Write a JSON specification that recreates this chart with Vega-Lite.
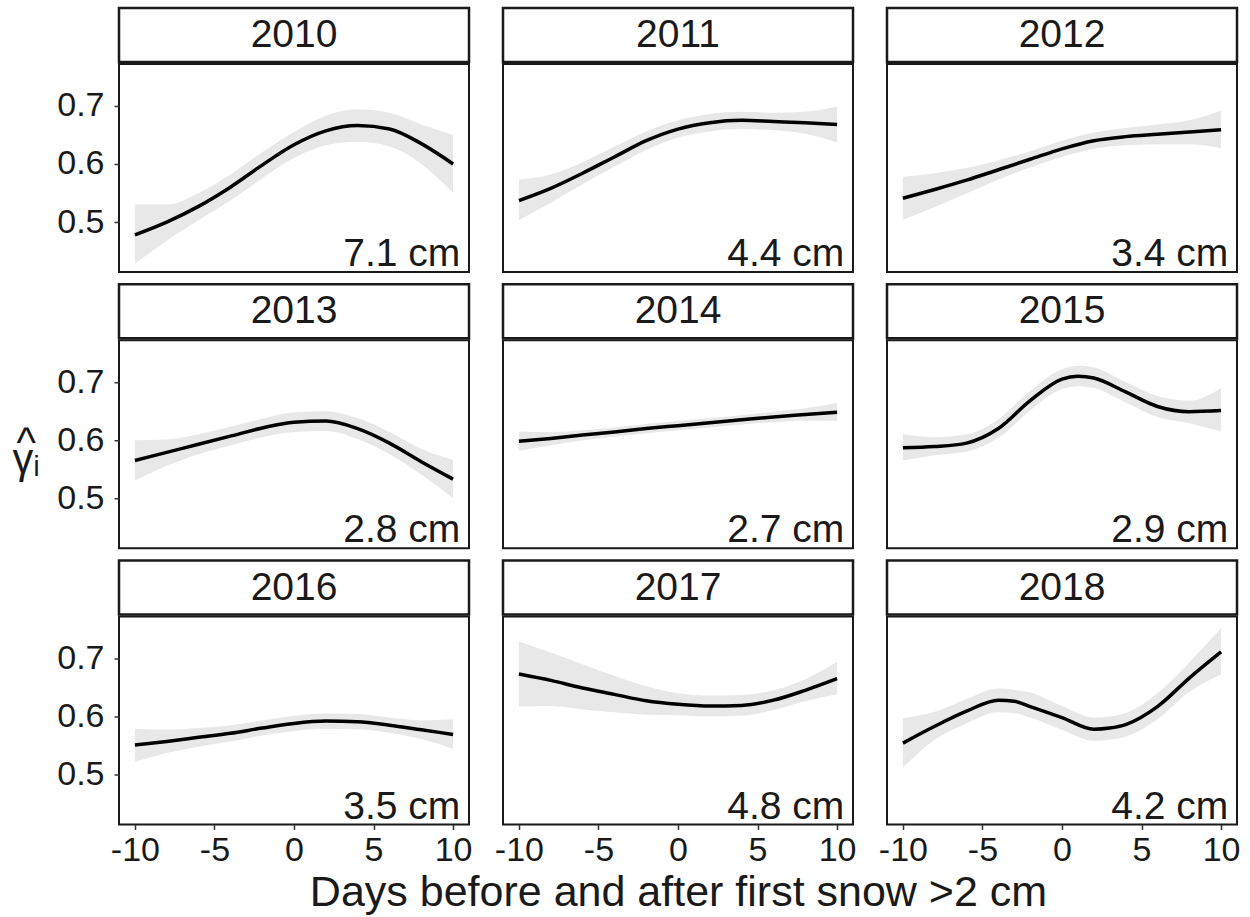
{
  "$schema": "https://vega.github.io/schema/vega-lite/v6.json",
  "background": "white",
  "padding": {"left": 11, "top": 6, "right": 5, "bottom": 4},
  "datasets": {
    "fits": [
      {"year": 2010, "day": -10, "est": 0.478, "lo": 0.428, "hi": 0.530},
      {"year": 2010, "day": -8, "est": 0.500, "lo": 0.468, "hi": 0.530},
      {"year": 2010, "day": -6, "est": 0.527, "lo": 0.503, "hi": 0.550},
      {"year": 2010, "day": -4, "est": 0.560, "lo": 0.537, "hi": 0.582},
      {"year": 2010, "day": -2, "est": 0.598, "lo": 0.575, "hi": 0.620},
      {"year": 2010, "day": 0, "est": 0.633, "lo": 0.610, "hi": 0.655},
      {"year": 2010, "day": 2, "est": 0.657, "lo": 0.632, "hi": 0.683},
      {"year": 2010, "day": 4, "est": 0.666, "lo": 0.638, "hi": 0.694},
      {"year": 2010, "day": 6, "est": 0.660, "lo": 0.630, "hi": 0.688},
      {"year": 2010, "day": 8, "est": 0.635, "lo": 0.600, "hi": 0.668},
      {"year": 2010, "day": 10, "est": 0.600, "lo": 0.550, "hi": 0.650},

      {"year": 2011, "day": -10, "est": 0.537, "lo": 0.503, "hi": 0.573},
      {"year": 2011, "day": -8, "est": 0.558, "lo": 0.533, "hi": 0.582},
      {"year": 2011, "day": -6, "est": 0.584, "lo": 0.565, "hi": 0.603},
      {"year": 2011, "day": -4, "est": 0.612, "lo": 0.595, "hi": 0.630},
      {"year": 2011, "day": -2, "est": 0.640, "lo": 0.624, "hi": 0.656},
      {"year": 2011, "day": 0, "est": 0.660, "lo": 0.645, "hi": 0.675},
      {"year": 2011, "day": 2, "est": 0.671, "lo": 0.656, "hi": 0.686},
      {"year": 2011, "day": 4, "est": 0.675, "lo": 0.660, "hi": 0.690},
      {"year": 2011, "day": 6, "est": 0.673, "lo": 0.658, "hi": 0.688},
      {"year": 2011, "day": 8, "est": 0.671, "lo": 0.652, "hi": 0.690},
      {"year": 2011, "day": 10, "est": 0.668, "lo": 0.637, "hi": 0.699},

      {"year": 2012, "day": -10, "est": 0.541, "lo": 0.504, "hi": 0.578},
      {"year": 2012, "day": -8, "est": 0.556, "lo": 0.526, "hi": 0.584},
      {"year": 2012, "day": -6, "est": 0.572, "lo": 0.549, "hi": 0.593},
      {"year": 2012, "day": -4, "est": 0.590, "lo": 0.573, "hi": 0.606},
      {"year": 2012, "day": -2, "est": 0.608, "lo": 0.594, "hi": 0.622},
      {"year": 2012, "day": 0, "est": 0.626, "lo": 0.612, "hi": 0.640},
      {"year": 2012, "day": 2, "est": 0.640, "lo": 0.626, "hi": 0.654},
      {"year": 2012, "day": 4, "est": 0.647, "lo": 0.632, "hi": 0.662},
      {"year": 2012, "day": 6, "est": 0.651, "lo": 0.634, "hi": 0.668},
      {"year": 2012, "day": 8, "est": 0.655, "lo": 0.634, "hi": 0.675},
      {"year": 2012, "day": 10, "est": 0.659, "lo": 0.627, "hi": 0.692},

      {"year": 2013, "day": -10, "est": 0.565, "lo": 0.530, "hi": 0.600},
      {"year": 2013, "day": -8, "est": 0.579, "lo": 0.556, "hi": 0.601},
      {"year": 2013, "day": -6, "est": 0.593, "lo": 0.576, "hi": 0.610},
      {"year": 2013, "day": -4, "est": 0.607, "lo": 0.591, "hi": 0.623},
      {"year": 2013, "day": -2, "est": 0.621, "lo": 0.605, "hi": 0.637},
      {"year": 2013, "day": 0, "est": 0.631, "lo": 0.614, "hi": 0.648},
      {"year": 2013, "day": 2, "est": 0.633, "lo": 0.616, "hi": 0.650},
      {"year": 2013, "day": 4, "est": 0.620, "lo": 0.602, "hi": 0.638},
      {"year": 2013, "day": 6, "est": 0.595, "lo": 0.576, "hi": 0.614},
      {"year": 2013, "day": 8, "est": 0.563, "lo": 0.541, "hi": 0.585},
      {"year": 2013, "day": 10, "est": 0.533, "lo": 0.500, "hi": 0.566},

      {"year": 2014, "day": -10, "est": 0.598, "lo": 0.582, "hi": 0.615},
      {"year": 2014, "day": -8, "est": 0.603, "lo": 0.591, "hi": 0.614},
      {"year": 2014, "day": -6, "est": 0.609, "lo": 0.600, "hi": 0.617},
      {"year": 2014, "day": -4, "est": 0.614, "lo": 0.606, "hi": 0.622},
      {"year": 2014, "day": -2, "est": 0.620, "lo": 0.612, "hi": 0.628},
      {"year": 2014, "day": 0, "est": 0.625, "lo": 0.617, "hi": 0.633},
      {"year": 2014, "day": 2, "est": 0.630, "lo": 0.622, "hi": 0.638},
      {"year": 2014, "day": 4, "est": 0.635, "lo": 0.627, "hi": 0.643},
      {"year": 2014, "day": 6, "est": 0.640, "lo": 0.631, "hi": 0.649},
      {"year": 2014, "day": 8, "est": 0.644, "lo": 0.634, "hi": 0.655},
      {"year": 2014, "day": 10, "est": 0.648, "lo": 0.633, "hi": 0.664},

      {"year": 2015, "day": -10, "est": 0.587, "lo": 0.565, "hi": 0.610},
      {"year": 2015, "day": -8, "est": 0.589, "lo": 0.574, "hi": 0.605},
      {"year": 2015, "day": -6, "est": 0.595, "lo": 0.580, "hi": 0.610},
      {"year": 2015, "day": -4, "est": 0.620, "lo": 0.604, "hi": 0.636},
      {"year": 2015, "day": -2, "est": 0.668, "lo": 0.651, "hi": 0.685},
      {"year": 2015, "day": 0, "est": 0.705, "lo": 0.688, "hi": 0.722},
      {"year": 2015, "day": 1, "est": 0.710, "lo": 0.693, "hi": 0.728},
      {"year": 2015, "day": 2, "est": 0.707, "lo": 0.690, "hi": 0.725},
      {"year": 2015, "day": 4, "est": 0.683, "lo": 0.665, "hi": 0.700},
      {"year": 2015, "day": 6, "est": 0.658, "lo": 0.640, "hi": 0.676},
      {"year": 2015, "day": 8, "est": 0.649, "lo": 0.629, "hi": 0.668},
      {"year": 2015, "day": 10, "est": 0.651, "lo": 0.615, "hi": 0.690},

      {"year": 2016, "day": -10, "est": 0.551, "lo": 0.522, "hi": 0.579},
      {"year": 2016, "day": -8, "est": 0.557, "lo": 0.537, "hi": 0.577},
      {"year": 2016, "day": -6, "est": 0.564, "lo": 0.548, "hi": 0.580},
      {"year": 2016, "day": -4, "est": 0.571, "lo": 0.557, "hi": 0.585},
      {"year": 2016, "day": -2, "est": 0.580, "lo": 0.567, "hi": 0.593},
      {"year": 2016, "day": 0, "est": 0.588, "lo": 0.575, "hi": 0.601},
      {"year": 2016, "day": 2, "est": 0.592, "lo": 0.579, "hi": 0.605},
      {"year": 2016, "day": 4, "est": 0.591, "lo": 0.578, "hi": 0.604},
      {"year": 2016, "day": 6, "est": 0.585, "lo": 0.572, "hi": 0.598},
      {"year": 2016, "day": 8, "est": 0.577, "lo": 0.561, "hi": 0.593},
      {"year": 2016, "day": 10, "est": 0.569, "lo": 0.544, "hi": 0.595},

      {"year": 2017, "day": -10, "est": 0.673, "lo": 0.617, "hi": 0.729},
      {"year": 2017, "day": -8, "est": 0.662, "lo": 0.618, "hi": 0.710},
      {"year": 2017, "day": -6, "est": 0.649, "lo": 0.612, "hi": 0.690},
      {"year": 2017, "day": -4, "est": 0.638, "lo": 0.607, "hi": 0.670},
      {"year": 2017, "day": -2, "est": 0.627, "lo": 0.603, "hi": 0.652},
      {"year": 2017, "day": 0, "est": 0.621, "lo": 0.602, "hi": 0.640},
      {"year": 2017, "day": 2, "est": 0.618, "lo": 0.600, "hi": 0.636},
      {"year": 2017, "day": 4, "est": 0.619, "lo": 0.601, "hi": 0.637},
      {"year": 2017, "day": 6, "est": 0.628, "lo": 0.611, "hi": 0.645},
      {"year": 2017, "day": 8, "est": 0.645, "lo": 0.626, "hi": 0.664},
      {"year": 2017, "day": 10, "est": 0.665, "lo": 0.638, "hi": 0.694},

      {"year": 2018, "day": -10, "est": 0.554, "lo": 0.512, "hi": 0.597},
      {"year": 2018, "day": -8, "est": 0.583, "lo": 0.560, "hi": 0.608},
      {"year": 2018, "day": -6, "est": 0.609, "lo": 0.588, "hi": 0.630},
      {"year": 2018, "day": -4, "est": 0.628, "lo": 0.607, "hi": 0.648},
      {"year": 2018, "day": -3, "est": 0.626, "lo": 0.606, "hi": 0.646},
      {"year": 2018, "day": -2, "est": 0.617, "lo": 0.598, "hi": 0.641},
      {"year": 2018, "day": 0, "est": 0.598, "lo": 0.577, "hi": 0.618},
      {"year": 2018, "day": 2, "est": 0.578, "lo": 0.558, "hi": 0.598},
      {"year": 2018, "day": 3, "est": 0.580, "lo": 0.560, "hi": 0.600},
      {"year": 2018, "day": 4, "est": 0.586, "lo": 0.565, "hi": 0.606},
      {"year": 2018, "day": 6, "est": 0.617, "lo": 0.595, "hi": 0.640},
      {"year": 2018, "day": 8, "est": 0.666, "lo": 0.642, "hi": 0.693},
      {"year": 2018, "day": 10, "est": 0.711, "lo": 0.672, "hi": 0.752}
    ],
    "depths": [
      {"year": 2010, "depth": "7.1 cm"},
      {"year": 2011, "depth": "4.4 cm"},
      {"year": 2012, "depth": "3.4 cm"},
      {"year": 2013, "depth": "2.8 cm"},
      {"year": 2014, "depth": "2.7 cm"},
      {"year": 2015, "depth": "2.9 cm"},
      {"year": 2016, "depth": "3.5 cm"},
      {"year": 2017, "depth": "4.8 cm"},
      {"year": 2018, "depth": "4.2 cm"}
    ]
  },
  "spacing": 6.25,
  "vconcat": [
    {"spacing": -2.25, "vconcat": [
      {"spacing": 34, "bounds": "flush", "hconcat": [
        {"data": {"name": "depths"}, "transform": [{"filter": "datum.year == 2010"}], "width": 350, "height": 54, "view": {"stroke": "#1a1a1a", "strokeWidth": 2.5}, "mark": {"type": "text", "fontSize": 39}, "encoding": {"text": {"field": "year", "type": "nominal"}}},
        {"data": {"name": "depths"}, "transform": [{"filter": "datum.year == 2011"}], "width": 350, "height": 54, "view": {"stroke": "#1a1a1a", "strokeWidth": 2.5}, "mark": {"type": "text", "fontSize": 39}, "encoding": {"text": {"field": "year", "type": "nominal"}}},
        {"data": {"name": "depths"}, "transform": [{"filter": "datum.year == 2012"}], "width": 350, "height": 54, "view": {"stroke": "#1a1a1a", "strokeWidth": 2.5}, "mark": {"type": "text", "fontSize": 39}, "encoding": {"text": {"field": "year", "type": "nominal"}}}
      ]},
      {"spacing": 34, "bounds": "flush", "hconcat": [
        {"width": 350, "height": 208, "layer": [
          {"data": {"name": "fits"}, "transform": [{"filter": "datum.year == 2010"}], "mark": {"type": "area", "interpolate": "monotone", "color": "#E8E8E8"},
           "encoding": {"x": {"field": "day", "type": "quantitative", "scale": {"domain": [-11, 11], "nice": false, "zero": false}, "axis": null},
                        "y": {"field": "lo", "type": "quantitative", "scale": {"domain": [0.414, 0.772], "nice": false, "zero": false}, "axis": {"title": null, "values": [0.5, 0.6, 0.7], "format": ".1f"}},
                        "y2": {"field": "hi"}}},
          {"data": {"name": "fits"}, "transform": [{"filter": "datum.year == 2010"}], "mark": {"type": "line", "interpolate": "monotone", "color": "black", "strokeWidth": 3.5},
           "encoding": {"x": {"field": "day", "type": "quantitative", "axis": null},
                        "y": {"field": "est", "type": "quantitative", "axis": {"title": null, "values": [0.5, 0.6, 0.7], "format": ".1f"}}}},
          {"data": {"name": "depths"}, "transform": [{"filter": "datum.year == 2010"}], "mark": {"type": "text", "align": "right", "baseline": "alphabetic", "fontSize": 39},
           "encoding": {"x": {"datum": 10.45, "type": "quantitative", "axis": null}, "y": {"datum": 0.424, "type": "quantitative", "axis": {"title": null, "values": [0.5, 0.6, 0.7], "format": ".1f"}}, "text": {"field": "depth", "type": "nominal"}}}
        ]},
        {"width": 350, "height": 208, "layer": [
          {"data": {"name": "fits"}, "transform": [{"filter": "datum.year == 2011"}], "mark": {"type": "area", "interpolate": "monotone", "color": "#E8E8E8"},
           "encoding": {"x": {"field": "day", "type": "quantitative", "scale": {"domain": [-11, 11], "nice": false, "zero": false}, "axis": null},
                        "y": {"field": "lo", "type": "quantitative", "scale": {"domain": [0.414, 0.772], "nice": false, "zero": false}, "axis": null},
                        "y2": {"field": "hi"}}},
          {"data": {"name": "fits"}, "transform": [{"filter": "datum.year == 2011"}], "mark": {"type": "line", "interpolate": "monotone", "color": "black", "strokeWidth": 3.5},
           "encoding": {"x": {"field": "day", "type": "quantitative", "axis": null}, "y": {"field": "est", "type": "quantitative", "axis": null}}},
          {"data": {"name": "depths"}, "transform": [{"filter": "datum.year == 2011"}], "mark": {"type": "text", "align": "right", "baseline": "alphabetic", "fontSize": 39},
           "encoding": {"x": {"datum": 10.45, "type": "quantitative", "axis": null}, "y": {"datum": 0.424, "type": "quantitative", "axis": null}, "text": {"field": "depth", "type": "nominal"}}}
        ]},
        {"width": 350, "height": 208, "layer": [
          {"data": {"name": "fits"}, "transform": [{"filter": "datum.year == 2012"}], "mark": {"type": "area", "interpolate": "monotone", "color": "#E8E8E8"},
           "encoding": {"x": {"field": "day", "type": "quantitative", "scale": {"domain": [-11, 11], "nice": false, "zero": false}, "axis": null},
                        "y": {"field": "lo", "type": "quantitative", "scale": {"domain": [0.414, 0.772], "nice": false, "zero": false}, "axis": null},
                        "y2": {"field": "hi"}}},
          {"data": {"name": "fits"}, "transform": [{"filter": "datum.year == 2012"}], "mark": {"type": "line", "interpolate": "monotone", "color": "black", "strokeWidth": 3.5},
           "encoding": {"x": {"field": "day", "type": "quantitative", "axis": null}, "y": {"field": "est", "type": "quantitative", "axis": null}}},
          {"data": {"name": "depths"}, "transform": [{"filter": "datum.year == 2012"}], "mark": {"type": "text", "align": "right", "baseline": "alphabetic", "fontSize": 39},
           "encoding": {"x": {"datum": 10.45, "type": "quantitative", "axis": null}, "y": {"datum": 0.424, "type": "quantitative", "axis": null}, "text": {"field": "depth", "type": "nominal"}}}
        ]}
      ]}
    ]},
    {"spacing": -2.25, "vconcat": [
      {"spacing": 34, "bounds": "flush", "hconcat": [
        {"data": {"name": "depths"}, "transform": [{"filter": "datum.year == 2013"}], "width": 350, "height": 54, "view": {"stroke": "#1a1a1a", "strokeWidth": 2.5}, "mark": {"type": "text", "fontSize": 39}, "encoding": {"text": {"field": "year", "type": "nominal"}}},
        {"data": {"name": "depths"}, "transform": [{"filter": "datum.year == 2014"}], "width": 350, "height": 54, "view": {"stroke": "#1a1a1a", "strokeWidth": 2.5}, "mark": {"type": "text", "fontSize": 39}, "encoding": {"text": {"field": "year", "type": "nominal"}}},
        {"data": {"name": "depths"}, "transform": [{"filter": "datum.year == 2015"}], "width": 350, "height": 54, "view": {"stroke": "#1a1a1a", "strokeWidth": 2.5}, "mark": {"type": "text", "fontSize": 39}, "encoding": {"text": {"field": "year", "type": "nominal"}}}
      ]},
      {"spacing": 34, "bounds": "flush", "hconcat": [
        {"width": 350, "height": 208, "layer": [
          {"data": {"name": "fits"}, "transform": [{"filter": "datum.year == 2013"}], "mark": {"type": "area", "interpolate": "monotone", "color": "#E8E8E8"},
           "encoding": {"x": {"field": "day", "type": "quantitative", "scale": {"domain": [-11, 11], "nice": false, "zero": false}, "axis": null},
                        "y": {"field": "lo", "type": "quantitative", "scale": {"domain": [0.414, 0.772], "nice": false, "zero": false}, "axis": {"title": ["^", "γᵢ"], "values": [0.5, 0.6, 0.7], "format": ".1f", "titleAngle": 0, "titleAlign": "center", "titleBaseline": "middle", "titleLineHeight": 16, "titlePadding": 15}},
                        "y2": {"field": "hi"}}},
          {"data": {"name": "fits"}, "transform": [{"filter": "datum.year == 2013"}], "mark": {"type": "line", "interpolate": "monotone", "color": "black", "strokeWidth": 3.5},
           "encoding": {"x": {"field": "day", "type": "quantitative", "axis": null},
                        "y": {"field": "est", "type": "quantitative", "axis": {"title": ["^", "γᵢ"], "values": [0.5, 0.6, 0.7], "format": ".1f", "titleAngle": 0, "titleAlign": "center", "titleBaseline": "middle", "titleLineHeight": 16, "titlePadding": 15}}}},
          {"data": {"name": "depths"}, "transform": [{"filter": "datum.year == 2013"}], "mark": {"type": "text", "align": "right", "baseline": "alphabetic", "fontSize": 39},
           "encoding": {"x": {"datum": 10.45, "type": "quantitative", "axis": null}, "y": {"datum": 0.424, "type": "quantitative", "axis": {"title": ["^", "γᵢ"], "values": [0.5, 0.6, 0.7], "format": ".1f", "titleAngle": 0, "titleAlign": "center", "titleBaseline": "middle", "titleLineHeight": 16, "titlePadding": 15}}, "text": {"field": "depth", "type": "nominal"}}}
        ]},
        {"width": 350, "height": 208, "layer": [
          {"data": {"name": "fits"}, "transform": [{"filter": "datum.year == 2014"}], "mark": {"type": "area", "interpolate": "monotone", "color": "#E8E8E8"},
           "encoding": {"x": {"field": "day", "type": "quantitative", "scale": {"domain": [-11, 11], "nice": false, "zero": false}, "axis": null},
                        "y": {"field": "lo", "type": "quantitative", "scale": {"domain": [0.414, 0.772], "nice": false, "zero": false}, "axis": null},
                        "y2": {"field": "hi"}}},
          {"data": {"name": "fits"}, "transform": [{"filter": "datum.year == 2014"}], "mark": {"type": "line", "interpolate": "monotone", "color": "black", "strokeWidth": 3.5},
           "encoding": {"x": {"field": "day", "type": "quantitative", "axis": null}, "y": {"field": "est", "type": "quantitative", "axis": null}}},
          {"data": {"name": "depths"}, "transform": [{"filter": "datum.year == 2014"}], "mark": {"type": "text", "align": "right", "baseline": "alphabetic", "fontSize": 39},
           "encoding": {"x": {"datum": 10.45, "type": "quantitative", "axis": null}, "y": {"datum": 0.424, "type": "quantitative", "axis": null}, "text": {"field": "depth", "type": "nominal"}}}
        ]},
        {"width": 350, "height": 208, "layer": [
          {"data": {"name": "fits"}, "transform": [{"filter": "datum.year == 2015"}], "mark": {"type": "area", "interpolate": "monotone", "color": "#E8E8E8"},
           "encoding": {"x": {"field": "day", "type": "quantitative", "scale": {"domain": [-11, 11], "nice": false, "zero": false}, "axis": null},
                        "y": {"field": "lo", "type": "quantitative", "scale": {"domain": [0.414, 0.772], "nice": false, "zero": false}, "axis": null},
                        "y2": {"field": "hi"}}},
          {"data": {"name": "fits"}, "transform": [{"filter": "datum.year == 2015"}], "mark": {"type": "line", "interpolate": "monotone", "color": "black", "strokeWidth": 3.5},
           "encoding": {"x": {"field": "day", "type": "quantitative", "axis": null}, "y": {"field": "est", "type": "quantitative", "axis": null}}},
          {"data": {"name": "depths"}, "transform": [{"filter": "datum.year == 2015"}], "mark": {"type": "text", "align": "right", "baseline": "alphabetic", "fontSize": 39},
           "encoding": {"x": {"datum": 10.45, "type": "quantitative", "axis": null}, "y": {"datum": 0.424, "type": "quantitative", "axis": null}, "text": {"field": "depth", "type": "nominal"}}}
        ]}
      ]}
    ]},
    {"spacing": -2.25, "vconcat": [
      {"spacing": 34, "bounds": "flush", "hconcat": [
        {"data": {"name": "depths"}, "transform": [{"filter": "datum.year == 2016"}], "width": 350, "height": 54, "view": {"stroke": "#1a1a1a", "strokeWidth": 2.5}, "mark": {"type": "text", "fontSize": 39}, "encoding": {"text": {"field": "year", "type": "nominal"}}},
        {"data": {"name": "depths"}, "transform": [{"filter": "datum.year == 2017"}], "width": 350, "height": 54, "view": {"stroke": "#1a1a1a", "strokeWidth": 2.5}, "mark": {"type": "text", "fontSize": 39}, "encoding": {"text": {"field": "year", "type": "nominal"}}},
        {"data": {"name": "depths"}, "transform": [{"filter": "datum.year == 2018"}], "width": 350, "height": 54, "view": {"stroke": "#1a1a1a", "strokeWidth": 2.5}, "mark": {"type": "text", "fontSize": 39}, "encoding": {"text": {"field": "year", "type": "nominal"}}}
      ]},
      {"spacing": 34, "bounds": "flush", "hconcat": [
        {"width": 350, "height": 208, "layer": [
          {"data": {"name": "fits"}, "transform": [{"filter": "datum.year == 2016"}], "mark": {"type": "area", "interpolate": "monotone", "color": "#E8E8E8"},
           "encoding": {"x": {"field": "day", "type": "quantitative", "scale": {"domain": [-11, 11], "nice": false, "zero": false}, "axis": {"title": null, "values": [-10, -5, 0, 5, 10], "labelExpr": "'' + datum.value"}},
                        "y": {"field": "lo", "type": "quantitative", "scale": {"domain": [0.414, 0.772], "nice": false, "zero": false}, "axis": {"title": null, "values": [0.5, 0.6, 0.7], "format": ".1f"}},
                        "y2": {"field": "hi"}}},
          {"data": {"name": "fits"}, "transform": [{"filter": "datum.year == 2016"}], "mark": {"type": "line", "interpolate": "monotone", "color": "black", "strokeWidth": 3.5},
           "encoding": {"x": {"field": "day", "type": "quantitative", "axis": {"title": null, "values": [-10, -5, 0, 5, 10], "labelExpr": "'' + datum.value"}},
                        "y": {"field": "est", "type": "quantitative", "axis": {"title": null, "values": [0.5, 0.6, 0.7], "format": ".1f"}}}},
          {"data": {"name": "depths"}, "transform": [{"filter": "datum.year == 2016"}], "mark": {"type": "text", "align": "right", "baseline": "alphabetic", "fontSize": 39},
           "encoding": {"x": {"datum": 10.45, "type": "quantitative", "axis": {"title": null, "values": [-10, -5, 0, 5, 10], "labelExpr": "'' + datum.value"}}, "y": {"datum": 0.424, "type": "quantitative", "axis": {"title": null, "values": [0.5, 0.6, 0.7], "format": ".1f"}}, "text": {"field": "depth", "type": "nominal"}}}
        ]},
        {"width": 350, "height": 208, "layer": [
          {"data": {"name": "fits"}, "transform": [{"filter": "datum.year == 2017"}], "mark": {"type": "area", "interpolate": "monotone", "color": "#E8E8E8"},
           "encoding": {"x": {"field": "day", "type": "quantitative", "scale": {"domain": [-11, 11], "nice": false, "zero": false}, "axis": {"title": "Days before and after first snow >2 cm", "titleFontSize": 43, "values": [-10, -5, 0, 5, 10], "labelExpr": "'' + datum.value"}},
                        "y": {"field": "lo", "type": "quantitative", "scale": {"domain": [0.414, 0.772], "nice": false, "zero": false}, "axis": null},
                        "y2": {"field": "hi"}}},
          {"data": {"name": "fits"}, "transform": [{"filter": "datum.year == 2017"}], "mark": {"type": "line", "interpolate": "monotone", "color": "black", "strokeWidth": 3.5},
           "encoding": {"x": {"field": "day", "type": "quantitative", "axis": {"title": "Days before and after first snow >2 cm", "titleFontSize": 43, "values": [-10, -5, 0, 5, 10], "labelExpr": "'' + datum.value"}},
                        "y": {"field": "est", "type": "quantitative", "axis": null}}},
          {"data": {"name": "depths"}, "transform": [{"filter": "datum.year == 2017"}], "mark": {"type": "text", "align": "right", "baseline": "alphabetic", "fontSize": 39},
           "encoding": {"x": {"datum": 10.45, "type": "quantitative", "axis": {"title": "Days before and after first snow >2 cm", "titleFontSize": 43, "values": [-10, -5, 0, 5, 10], "labelExpr": "'' + datum.value"}}, "y": {"datum": 0.424, "type": "quantitative", "axis": null}, "text": {"field": "depth", "type": "nominal"}}}
        ]},
        {"width": 350, "height": 208, "layer": [
          {"data": {"name": "fits"}, "transform": [{"filter": "datum.year == 2018"}], "mark": {"type": "area", "interpolate": "monotone", "color": "#E8E8E8"},
           "encoding": {"x": {"field": "day", "type": "quantitative", "scale": {"domain": [-11, 11], "nice": false, "zero": false}, "axis": {"title": null, "values": [-10, -5, 0, 5, 10], "labelExpr": "'' + datum.value"}},
                        "y": {"field": "lo", "type": "quantitative", "scale": {"domain": [0.414, 0.772], "nice": false, "zero": false}, "axis": null},
                        "y2": {"field": "hi"}}},
          {"data": {"name": "fits"}, "transform": [{"filter": "datum.year == 2018"}], "mark": {"type": "line", "interpolate": "monotone", "color": "black", "strokeWidth": 3.5},
           "encoding": {"x": {"field": "day", "type": "quantitative", "axis": {"title": null, "values": [-10, -5, 0, 5, 10], "labelExpr": "'' + datum.value"}},
                        "y": {"field": "est", "type": "quantitative", "axis": null}}},
          {"data": {"name": "depths"}, "transform": [{"filter": "datum.year == 2018"}], "mark": {"type": "text", "align": "right", "baseline": "alphabetic", "fontSize": 39},
           "encoding": {"x": {"datum": 10.45, "type": "quantitative", "axis": {"title": null, "values": [-10, -5, 0, 5, 10], "labelExpr": "'' + datum.value"}}, "y": {"datum": 0.424, "type": "quantitative", "axis": null}, "text": {"field": "depth", "type": "nominal"}}}
        ]}
      ]}
    ]}
  ],
  "config": {
    "font": "Liberation Sans",
    "view": {"stroke": "#1a1a1a", "strokeWidth": 2, "fill": "white"},
    "axis": {
      "domain": false,
      "grid": false,
      "ticks": true,
      "tickColor": "#333333",
      "tickSize": 5,
      "tickWidth": 1.5,
      "labelFont": "Liberation Sans",
      "labelFontSize": 34,
      "labelColor": "#1a1a1a",
      "titleFont": "Liberation Sans",
      "titleFontSize": 41.6,
      "titleFontWeight": "normal",
      "titleColor": "#1a1a1a"
    },
    "axisX": {"labelPadding": 4, "titlePadding": 4},
    "axisY": {"labelPadding": 10},
    "text": {"font": "Liberation Sans", "color": "#1a1a1a"}
  }
}
